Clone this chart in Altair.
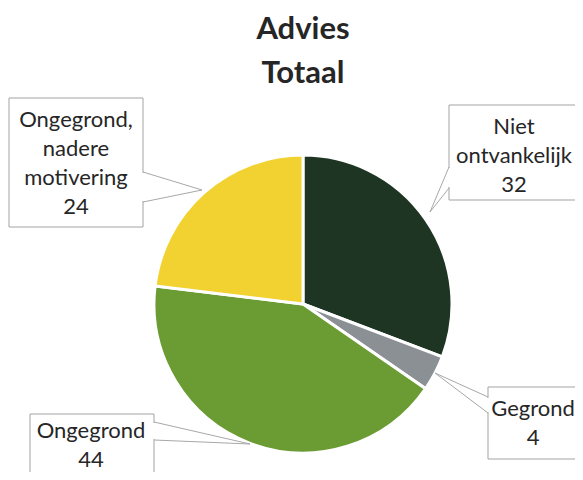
import altair as alt
import pandas as pd

# ---- data ----
categories = ["Niet ontvankelijk", "Gegrond", "Ongegrond", "Ongegrond, nadere motivering"]
values = [32, 4, 44, 24]
colors = ["#1e3524", "#8b9095", "#6b9b33", "#f1d230"]
label_lines = [["Niet", "ontvankelijk"], ["Gegrond"], ["Ongegrond"], ["Ongegrond,", "nadere", "motivering"]]
title_lines = ["Advies", "Totaal"]

# ---- layout (page pixels) ----
OFF = 8
W, H = 567, 464
CX, CY, R = 303, 304, 149
boxes = [(449, 620, 105, 200), (488, 620, 387, 459), (30, 154, 414, 520), (9, 143, 98, 227)]
pointers = [(449, 167, 188, 430, 212), (488, 397, 413, 435, 373),
            (154, 422, 440, 250, 444), (143, 172, 202, 202, 190)]
text_pos = [(514, 127), (533, 409), (91, 431), (76, 120)]
title_pos = [(303, 30), (303, 74)]
FONT = "Lato"

pie_df = pd.DataFrame({"cat": categories, "val": values, "idx": list(range(len(values)))})

xs = alt.Scale(domain=[OFF, OFF + W], nice=False, zero=False)
ys = alt.Scale(domain=[OFF + H, OFF], nice=False, zero=False)

pie = alt.Chart(pie_df).mark_arc(outerRadius=R, stroke="white", strokeWidth=3).encode(
    theta=alt.Theta("val:Q", stack=True),
    order=alt.Order("idx:Q"),
    color=alt.Color("cat:N", scale=alt.Scale(domain=categories, range=colors), legend=None),
    x=alt.value(CX - OFF),
    y=alt.value(CY - OFF),
)

box_df = pd.DataFrame({
    "x": [b[0] for b in boxes], "x2": [b[1] for b in boxes],
    "y": [b[2] for b in boxes], "y2": [b[3] for b in boxes],
})
box = alt.Chart(box_df).mark_rect(fill="white", stroke="#a3a3a3", strokeWidth=1).encode(
    x=alt.X("x:Q", scale=xs, axis=None), x2="x2:Q",
    y=alt.Y("y:Q", scale=ys, axis=None), y2="y2:Q",
)

erase_df = pd.DataFrame({
    "x": [p[0] for p in pointers],
    "y": [p[1] + 1 for p in pointers], "y2": [p[2] - 1 for p in pointers],
})
erase = alt.Chart(erase_df).mark_rule(color="white", strokeWidth=3).encode(
    x=alt.X("x:Q", scale=xs, axis=None),
    y=alt.Y("y:Q", scale=ys, axis=None), y2="y2:Q",
)

rows = []
for i, (ex, y1, y2, tx, ty) in enumerate(pointers):
    rows += [{"id": i, "o": 0, "x": ex, "y": y1},
             {"id": i, "o": 1, "x": tx, "y": ty},
             {"id": i, "o": 2, "x": ex, "y": y2}]
ptr = alt.Chart(pd.DataFrame(rows)).mark_line(color="#a8a8a8", strokeWidth=1).encode(
    x=alt.X("x:Q", scale=xs, axis=None),
    y=alt.Y("y:Q", scale=ys, axis=None),
    detail="id:N",
    order="o:Q",
)

lab_df = pd.DataFrame({
    "x": [p[0] for p in text_pos], "y": [p[1] for p in text_pos],
    "t": ["\n".join(l + [str(v)]) for l, v in zip(label_lines, values)],
})
labels = alt.Chart(lab_df).mark_text(
    font=FONT, fontSize=22, color="#262626", lineBreak="\n", lineHeight=29,
    align="center", baseline="middle",
).encode(
    x=alt.X("x:Q", scale=xs, axis=None),
    y=alt.Y("y:Q", scale=ys, axis=None),
    text="t:N",
)

title_df = pd.DataFrame({"x": [p[0] for p in title_pos], "y": [p[1] for p in title_pos], "t": title_lines})
title = alt.Chart(title_df).mark_text(
    font=FONT, fontSize=31, fontWeight="bold", color="#262626", align="center", baseline="middle",
).encode(
    x=alt.X("x:Q", scale=xs, axis=None),
    y=alt.Y("y:Q", scale=ys, axis=None),
    text="t:N",
)

chart = alt.layer(pie, box, erase, ptr, labels, title).properties(
    width=W, height=H, padding=0, autosize=alt.AutoSizeParams(type="none"),
    background="white",
).configure_view(strokeWidth=0)

chart.save("out.html", embed_options={"renderer": "svg", "actions": False})
